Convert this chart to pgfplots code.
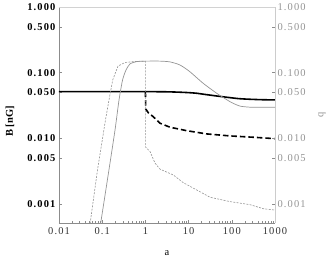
\documentclass[border=0pt]{standalone}
\usepackage{fontspec}
\setmainfont{Liberation Serif}
\usepackage{pgfplots}
\pgfplotsset{compat=1.18}
\newfontfamily\spaced{Liberation Serif}[LetterSpace=11]
\definecolor{qgray}{gray}{0.58}
\definecolor{framegray}{gray}{0.55}
\begin{document}
\begin{tikzpicture}
\begin{axis}[
  scale only axis, width=216bp, height=216bp,
  xmode=log, ymode=log,
  xmin=0.01, xmax=1000, ymin=0.000515, ymax=1,
  ytick={0.001,0.005,0.01,0.05,0.1,0.5,1},
  yticklabels={0.001,0.005,0.010,0.050,0.100,0.500,1.000},
  tick align=inside,
  major tick length=3.5bp, minor tick length=2bp,
  tick style={framegray, line width=0.4pt},
  axis x line*=bottom, axis y line*=left,
  axis line style={framegray, line width=0.5pt},
  xtick={0.01,0.1,1,10,100,1000},
  xticklabels={0.01,0.1,1,10,100,1000},
  xticklabel style={font=\fontsize{10.5}{12}\spaced, text=black!80, yshift=-1bp},
  yticklabel style={font=\fontsize{10.5}{12}\spaced\bfseries, text=black, xshift=0bp},
  xlabel={a}, ylabel={\bfseries B [nG]},
  xlabel style={font=\fontsize{10.5}{12}\selectfont, at={(axis description cs:0.5,-0.139)}, anchor=center},
  ylabel style={font=\fontsize{10.5}{12}\selectfont, at={(axis description cs:-0.227,0.47)}, anchor=center},
]
\addplot[black, line width=1.6pt, smooth, tension=0.4] coordinates {
(0.01,0.0514) (1,0.0514) (3,0.0512) (6,0.0505) (10,0.0497) (15.5,0.0486) (25,0.0465) (44.6,0.0442) (91,0.0417) (150,0.0402) (263,0.0394) (500,0.0388) (1000,0.0385)};
\addplot[black, line width=1.6pt, dash pattern=on 5.5bp off 3bp] coordinates {
(1,0.0514) (1.02,0.028) (1.17,0.0245) (1.52,0.0214) (2.18,0.017) (3.7,0.0148) (9,0.0131) (26,0.0117) (91,0.0109) (315,0.0104) (1000,0.0099)};
\end{axis}
\begin{axis}[
  scale only axis, width=216bp, height=216bp,
  xmode=log, ymode=log,
  xmin=0.01, xmax=1000, ymin=0.000515, ymax=1,
  ytick={0.001,0.005,0.01,0.05,0.1,0.5,1},
  yticklabels={0.001,0.005,0.010,0.050,0.100,0.500,1.000},
  tick align=inside,
  major tick length=3.5bp, minor tick length=2bp,
  tick style={framegray, line width=0.4pt},
  axis x line=none, axis y line*=right,
  axis line style={gray!40, line width=0.5pt},
  yticklabel style={font=\fontsize{10.5}{12}\spaced, text=qgray, xshift=-1bp},
  ylabel={q},
  ylabel style={font=\fontsize{10.5}{12}\selectfont, text=qgray, at={(axis description cs:1.218,0.5)}, anchor=center},
]
\draw[gray!35, line width=0.5pt] (rel axis cs:0,1) -- (rel axis cs:1,1);
\addplot[qgray, line width=0.6pt, dash pattern=on 2bp off 1.3bp] coordinates {
(0.05,0.0004) (0.0778,0.0033) (0.119,0.019) (0.1436,0.0384) (0.175,0.0774) (0.232,0.126) (0.337,0.143) (0.57,0.148) (0.98,0.150) (1,0.150) (1,0.0074) (1.28,0.0063) (1.67,0.0042) (2.18,0.0034) (4.43,0.00277) (7.5,0.00212) (15.4,0.00164) (31.3,0.00127) (90.8,0.00109) (263,0.00098) (537,0.00085) (1000,0.00081)};
\addplot[qgray, line width=0.7pt, smooth, tension=0.4] coordinates {
(0.087,0.0004) (0.14,0.003) (0.198,0.0134) (0.245,0.0384) (0.296,0.0774) (0.356,0.110) (0.44,0.136) (0.64,0.148) (1.14,0.150) (2.17,0.150) (3.7,0.146) (6.3,0.131) (10.7,0.1035) (21.7,0.069) (44.6,0.0487) (91,0.0362) (152,0.0311) (250,0.0299) (377,0.0297) (1000,0.0297)};
\end{axis}
\pgfresetboundingbox
\path (-59bp,-37bp) rectangle (275bp,223bp);
\end{tikzpicture}
\end{document}
